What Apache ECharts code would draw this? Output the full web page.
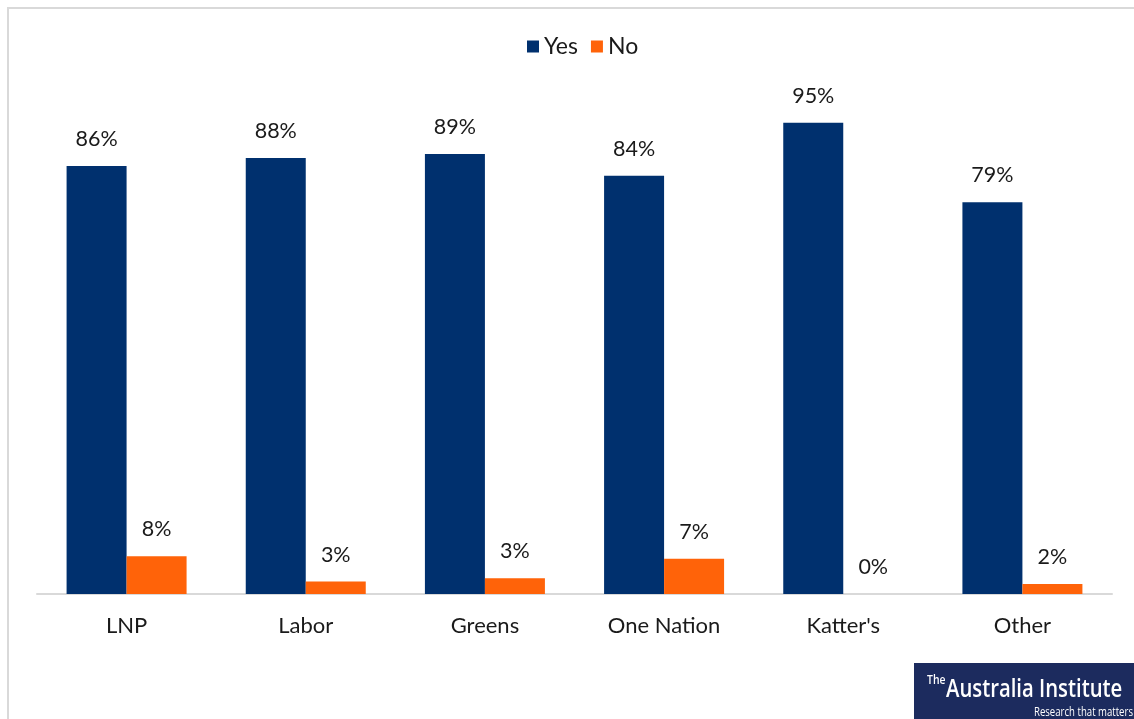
<!DOCTYPE html>
<html>
<head>
<meta charset="utf-8">
<script src="https://cdn.jsdelivr.net/npm/echarts@6/dist/echarts.min.js"></script>
<style>html,body{margin:0;padding:0;background:#fff;}#c{width:1134px;height:719px;}</style>
</head>
<body>
<div id="c"></div>
<script>
const categories = ["LNP", "Labor", "Greens", "One Nation", "Katter's", "Other"];
const yesValues = [86.3, 87.9, 88.7, 84.3, 95.0, 79.0];
const noValues = [7.6, 2.5, 3.2, 7.1, 0, 2.0];
const seriesNames = ["Yes", "No"];

const FONT = "Lato, 'Open Sans', sans-serif";
const chart = echarts.init(document.getElementById('c'), null, {renderer: 'canvas'});
const labelCfg = {
  show: true, position: 'top', distance: 16,
  color: '#1a1a1a', fontSize: 21.5, fontFamily: FONT,
  formatter: p => Math.round(p.value) + '%'
};
chart.setOption({
  animation: false,
  backgroundColor: '#fff',
  legend: {
    top: 30, left: 522, itemWidth: 12, itemHeight: 12, itemGap: 13,
    icon: 'rect',
    textStyle: {fontSize: 23, fontFamily: FONT, color: '#1a1a1a'},
    data: seriesNames
  },
  grid: {left: 37, right: 22, top: 98, bottom: 125, containLabel: false},
  xAxis: {
    type: 'category', data: categories,
    axisLine: {lineStyle: {color: '#d9d9d9', width: 2}},
    axisTick: {show: false},
    axisLabel: {fontSize: 22, fontFamily: FONT, color: '#1a1a1a', margin: 21}
  },
  yAxis: {
    type: 'value', min: 0, max: 100, show: false,
    splitLine: {show: false}
  },
  series: [
    {name: seriesNames[0], type: 'bar', data: yesValues, barWidth: 60, barGap: '0%',
     itemStyle: {color: '#00306e'}, label: labelCfg},
    {name: seriesNames[1], type: 'bar', data: noValues, barWidth: 60,
     itemStyle: {color: '#ff6309'}, label: labelCfg}
  ],
  graphic: [
    {type: 'rect', shape: {x: 8, y: 8, width: 1300, height: 900}, style: {fill: 'none', stroke: '#d9d9d9', lineWidth: 2}, z: 100},
    {type: 'rect', shape: {x: 914, y: 663, width: 220, height: 56}, style: {fill: '#1c2b5e'}, z: 101},
    {type: 'text', x: 927, y: 680, scaleX: 0.8, style: {text: 'The', fill: '#fff', font: '600 13px "Open Sans", sans-serif', textVerticalAlign: 'middle'}, z: 102},
    {type: 'text', x: 946, y: 690, scaleX: 0.78, style: {text: 'Australia Institute', fill: '#fff', font: '600 26px "Open Sans", sans-serif', textVerticalAlign: 'middle', letterSpacing: -0.5}, z: 102},
    {type: 'text', x: 1133, y: 713, scaleX: 0.8, style: {text: 'Research that matters', fill: '#fff', font: '12px "Open Sans", sans-serif', textAlign: 'right', textVerticalAlign: 'middle'}, z: 102}
  ]
});
</script>
</body>
</html>
